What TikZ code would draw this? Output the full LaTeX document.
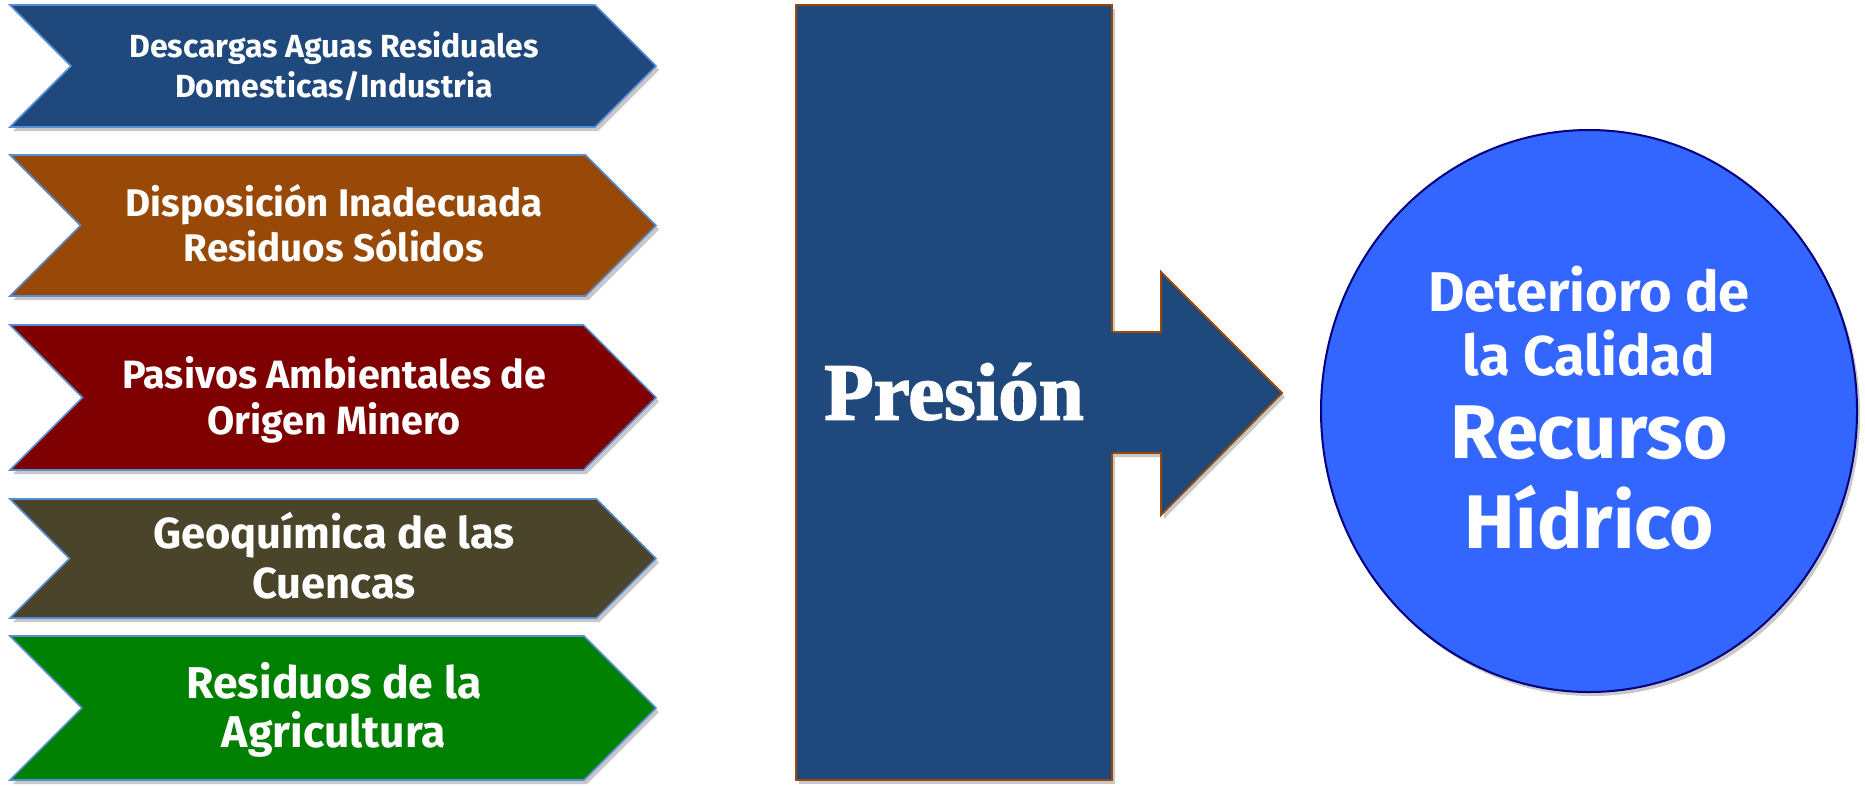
\documentclass[tikz,border=0pt]{standalone}
\usepackage{fontspec}
\setmainfont{Fira Sans}
\newfontfamily\fsans{Fira Sans}
\newfontfamily\fserif[FakeBold=2]{Liberation Serif}
\usetikzlibrary{shadows,shapes.geometric}
\definecolor{cBlue}{HTML}{1F497D}
\definecolor{cBrown}{HTML}{984807}
\definecolor{cRed}{HTML}{7F0000}
\definecolor{cOlive}{HTML}{4A452A}
\definecolor{cGreen}{HTML}{008000}
\definecolor{cEdge}{HTML}{558ED5}
\definecolor{cCircle}{HTML}{3366FF}
\definecolor{cNavy}{HTML}{000080}
\definecolor{cShadow}{HTML}{C8C8C8}
\newcommand\gl[2]{\rule{0pt}{#1pt}\smash{#2}}
\tikzset{
  shad/.style={drop shadow={shadow xshift=3pt, shadow yshift=-4pt, fill=cShadow, opacity=1}},
  chevshape/.style={draw=cEdge, line width=1.6pt, shad},
  chevtext/.style={text=white, align=center, inner sep=0pt,
    font={\fsans\bfseries\fontsize{#1}{0}\selectfont\lineskip=0pt\lineskiplimit=0pt}},
  presbox/.style={rectangle, draw=cBrown, line width=1.8pt, fill=cBlue, text=white,
    minimum width=316pt, minimum height=775pt, inner sep=0pt, shad,
    font={\fserif\bfseries\fontsize{81}{0}\selectfont}},
  bluearrow/.style={draw=cBrown, line width=1.8pt, line join=miter},
  outcircle/.style={ellipse, draw=cNavy, line width=2pt, fill=cCircle, text=white,
    minimum width=536pt, minimum height=562pt, inner sep=0pt, align=center, shad,
    font={\fsans\bfseries\fontsize{56}{0}\selectfont\lineskip=0pt\lineskiplimit=0pt}}
}
\newcommand\chevron[3]{%
  \pgfmathsetmacro\chevhh{(#2-#1)/2}%
  \pgfmathsetmacro\chevmid{(#2+#1)/2}%
  \path[chevshape, fill=#3] (10,#1) -- ({656-\chevhh},#1) -- (656,\chevmid)
     -- ({656-\chevhh},#2) -- (10,#2) -- ({10+\chevhh},\chevmid) -- cycle;
}
\begin{document}
\begin{tikzpicture}[x=1pt, y=-1pt]
\useasboundingbox (0,0) rectangle (1865,785);
% chevrons
\chevron{5}{127}{cBlue}
\chevron{155}{296}{cBrown}
\chevron{325}{470}{cRed}
\chevron{499}{618}{cOlive}
\chevron{636}{780}{cGreen}
\node[chevtext=32] (c1) at (334,66) {\gl{22}{Descargas Aguas Residuales}\\\gl{40}{Domesticas/Industria}};
\node[chevtext=38.5] (c2) at (334,226) {\gl{26.5}{Disposición Inadecuada}\\\gl{45}{Residuos Sólidos}};
\node[chevtext=39.5] (c3) at (334,397.5) {\gl{27}{Pasivos Ambientales de}\\\gl{46}{Origen Minero}};
\node[chevtext=43.5] (c4) at (334,558.5) {\gl{30}{Geoquímica de las}\\\gl{50}{Cuencas}};
\node[chevtext=44.5] (c5) at (334,708) {\gl{30.5}{Residuos de la}\\\gl{49}{Agricultura}};
% pressure box
\node[presbox] (presion) at (954,392.5) {\gl{54}{Presión}};
% block arrow
\path[fill=cBlue, shad] (1110,332) -- (1161,332) -- (1161,272) -- (1282,393)
   -- (1161,515) -- (1161,453) -- (1110,453) -- cycle;
\draw[bluearrow] (presion.east |- 0,332) -- (1161,332) -- (1161,272) -- (1282,393)
   -- (1161,515) -- (1161,453) -- (presion.east |- 0,453);
% result circle
\node[outcircle] (calidad) at (1589,411) {\gl{38.6}{Deterioro de}\\\gl{64}{la Calidad}\\\gl{83}{\fontsize{76}{0}\selectfont Recurso}\\\gl{90}{\fontsize{76}{0}\selectfont Hídrico}};
\end{tikzpicture}
\end{document}
